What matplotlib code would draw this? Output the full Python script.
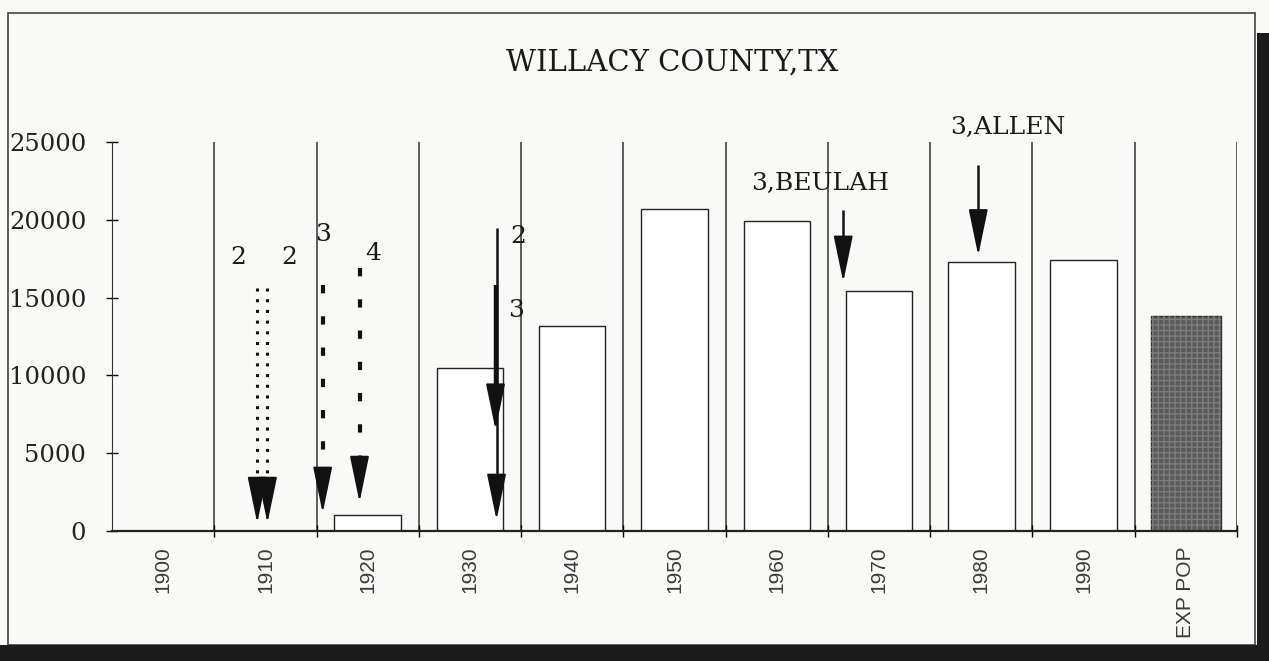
import matplotlib.pyplot as plt
from matplotlib.patches import Rectangle
import numpy as np

# population by census year
years = ["1900", "1910", "1920", "1930", "1940", "1950", "1960", "1970", "1980", "1990", "EXP POP"]
population = [0, 0, 1000, 10450, 13200, 20700, 19900, 15400, 17300, 17400, 13800]

# arrows: x position (category units), start value, end value, style
arrow_x = [0.92, 1.02, 1.56, 1.92, 3.26, 3.25, 6.65, 7.97]
arrow_top = [15600, 15600, 15800, 16900, 19500, 15800, 20600, 23500]
arrow_tip = [500, 500, 1150, 1850, 700, 6500, 16000, 17700]
arrow_style = ["dot", "dot", "dash", "dash", "thin", "thick", "thin", "thin"]

# annotation text: x, y, label
note_x = [0.73, 1.23, 1.56, 2.05, 3.47, 3.45, 6.42, 8.26]
note_y = [17550, 17550, 19050, 17850, 18900, 14200, 22350, 25950]
note_text = ["2", "2", "3", "4", "2", "3", "3,BEULAH", "3,ALLEN"]

bg = "#f9f9f8"
fig = plt.figure(figsize=(12.69, 6.61), dpi=100, facecolor=bg)
W, H = 1269, 661
ax = fig.add_axes([112 / W, 1 - 531 / H, (1237 - 112) / W, (531 - 142) / H])
ax.set_facecolor(bg)

x = np.arange(len(years))
ax.bar(x[:-1], population[:-1], width=0.65, facecolor="white", edgecolor="#222222", linewidth=1.0, zorder=2)
ax.bar(x[-1], population[-1], width=0.68, facecolor="#5a5a5a", edgecolor="#333333", linewidth=1.0, zorder=2)
ax.bar(x[-1], population[-1], width=0.68, fill=False, hatch="+++", edgecolor="#7c7c7c", linewidth=0, zorder=2)

# vertical separators between categories
ax.vlines(x + 0.5, 0, 25000, color="#333333", linewidth=1.1, zorder=1)

ax.set_xlim(-0.5, len(years) - 0.5)
ax.set_ylim(0, 25000)

styles = {
    "dot": dict(linestyle=(0, (1, 2.5)), linewidth=2.2),
    "dash": dict(linestyle=(0, (2, 5.5)), linewidth=3.0),
    "thin": dict(linestyle="-", linewidth=1.8),
    "thick": dict(linestyle="-", linewidth=3.2),
}
head_len = 2700
for ax_x, top, tip, st in zip(arrow_x, arrow_top, arrow_tip, arrow_style):
    ax.plot([ax_x, ax_x], [top, tip + head_len * 0.8], color="#111111", zorder=4,
            solid_capstyle="butt", clip_on=False, **styles[st])
    ax.annotate("", xy=(ax_x, tip), xytext=(ax_x, tip + head_len),
                arrowprops=dict(arrowstyle="-|>,head_length=1.45,head_width=0.3",
                                mutation_scale=20, color="#111111", lw=1.5,
                                shrinkA=0, shrinkB=0),
                zorder=5, annotation_clip=False)

for nx, ny, nt in zip(note_x, note_y, note_text):
    ax.text(nx, ny, nt, ha="center", va="center", fontsize=18, family="DejaVu Serif",
            color="#1a1a1a", zorder=6, clip_on=False)

for side in ["top", "right"]:
    ax.spines[side].set_visible(False)
ax.spines["left"].set_color("#333333")
ax.spines["bottom"].set_color("#222222")
ax.spines["bottom"].set_linewidth(1.6)
ax.spines["left"].set_bounds(0, 25000)

ax.set_yticks(np.arange(0, 25001, 5000))
ax.set_yticklabels([str(v) for v in range(0, 25001, 5000)], family="DejaVu Serif",
                   fontsize=17.5, color="#222222")
ax.tick_params(axis="y", direction="inout", length=9, width=1, pad=14)

ax.set_xticks(x + 0.5, minor=True)
ax.set_xticks(x)
ax.set_xticklabels(years, rotation=90, family="Liberation Sans", fontsize=15, color="#3a3a3a")
ax.tick_params(axis="x", which="major", length=0, pad=11)
ax.tick_params(axis="x", which="minor", direction="inout", length=8, width=1)

fig.text(672 / W, 1 - 63 / H, "WILLACY COUNTY,TX", ha="center", va="center",
         fontsize=21, family="DejaVu Serif", color="#1a1a1a")

# page border and dark scan margins
fig.add_artist(Rectangle((8 / W, 1 - 645 / H), (1255 - 8) / W, (645 - 13) / H,
                         transform=fig.transFigure, fill=False, edgecolor="#444444", linewidth=1.2))
fig.add_artist(Rectangle((0, 0), 1, 16 / H, transform=fig.transFigure,
                         facecolor="#1c1c1c", edgecolor="none"))
fig.add_artist(Rectangle((1257 / W, 0), 12 / W, 1 - 33 / H, transform=fig.transFigure,
                         facecolor="#1c1c1c", edgecolor="none"))

fig.savefig("out.png", dpi=100, facecolor=bg)
